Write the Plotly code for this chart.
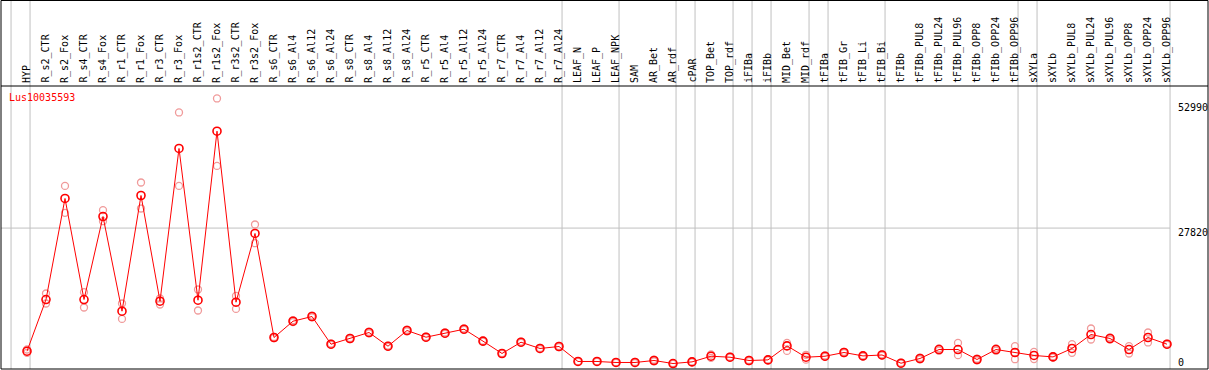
import plotly.graph_objects as go

categories = ["HYP", "R_s2_CTR", "R_s2_Fox", "R_s4_CTR", "R_s4_Fox", "R_r1_CTR", "R_r1_Fox",
              "R_r3_CTR", "R_r3_Fox", "R_r1s2_CTR", "R_r1s2_Fox", "R_r3s2_CTR", "R_r3s2_Fox",
              "R_s6_CTR", "R_s6_Al4", "R_s6_Al12", "R_s6_Al24", "R_s8_CTR", "R_s8_Al4", "R_s8_Al12",
              "R_s8_Al24", "R_r5_CTR", "R_r5_Al4", "R_r5_Al12", "R_r5_Al24", "R_r7_CTR", "R_r7_Al4",
              "R_r7_Al12", "R_r7_Al24", "LEAF_N", "LEAF_P", "LEAF_NPK", "SAM", "AR_Bet", "AR_rdf",
              "cPAR", "TOP_Bet", "TOP_rdf", "iFIBa", "iFIBb", "MID_Bet", "MID_rdf", "tFIBa",
              "tFIB_Gr", "tFIB_Li", "tFIB_Bi", "tFIBb", "tFIBb_PUL8", "tFIBb_PUL24", "tFIBb_PUL96",
              "tFIBb_OPP8", "tFIBb_OPP24", "tFIBb_OPP96", "sXYLa", "sXYLb", "sXYLb_PUL8",
              "sXYLb_PUL24", "sXYLb_PUL96", "sXYLb_OPP8", "sXYLb_OPP24", "sXYLb_OPP96"]

mean_values = [3020, 13430, 33780, 13430, 30150, 11080, 34380, 13090, 43850, 13290, 47330, 12890, 26730,
               5780, 9060, 10010, 4430, 5580, 6790, 4030, 7190, 5840, 6650, 7450, 5040, 2560, 4830, 3570, 3970,
               950, 950, 750, 750, 1150, 540, 870,
               2010, 1810, 1150, 1270, 4090, 1810, 2010, 2760, 2070, 2260, 600,
               1550, 3360, 3360, 1350, 3360, 2760, 2160, 1870, 3570, 6380, 5580, 3360, 5780, 4430]

rep1_values = [3360, 14640, 36310, 14900, 31420, 12630, 37000, 13640, 51100, 15450, 53920, 14160, 28540,
               5900, 9250, 10200, 4550, 5700, 6950, 4150, 7350, 5950, 6800, 7600, 5150, 2650, 4950, 3680, 4080,
               1020, 1010, 820, 860, 1300, 620, 960,
               2360, 1900, 1250, 1350, 4690, 2300, 2150, 2900, 2200, 2400, 700,
               1700, 3600, 4690, 1500, 3600, 4030, 2880, 2000, 4430, 7590, 5800, 4030, 6790, 4560]

rep2_values = [2700, 12630, 30880, 11820, 29200, 9530, 31760, 12430, 36310, 11220, 40340, 11540, 24770,
               5660, 8870, 9820, 4310, 5460, 6630, 3910, 7030, 5730, 6500, 7300, 4930, 2470, 4710, 3460, 3860,
               880, 890, 680, 640, 1000, 460, 780,
               1670, 1720, 1050, 1190, 3080, 1320, 1870, 2620, 1940, 2120, 500,
               1400, 3120, 2220, 1200, 3120, 1410, 1430, 1740, 2700, 5380, 5360, 2560, 4780, 4300]

# group separators: line drawn just right of these category indices
group_ends = [-1, 0, 28, 31, 34, 35, 37, 38, 39, 41, 42, 45, 52, 53, 60]
y_ticks = [0, 27820, 52990]
title_text = "Lus10035593"

W, H = 1209, 370
ML, MR, MT, MB = 1, 1, 86, 1
plot_h = H - MT - MB
top_paper = (H - MB - 0.5) / plot_h

x = list(range(len(categories)))
mono = "DejaVu Sans Mono"

fig = go.Figure()
for reps in (rep1_values, rep2_values):
    fig.add_trace(go.Scatter(x=x, y=reps, mode="markers",
                             marker=dict(symbol="circle-open", size=7, color="#f09a9a",
                                         line=dict(width=1.3, color="#f09a9a")),
                             hoverinfo="skip", showlegend=False))
fig.add_trace(go.Scatter(x=x, y=mean_values, mode="lines+markers",
                         line=dict(color="#ff0000", width=1),
                         marker=dict(symbol="circle-open", size=8, color="#ff0000",
                                     line=dict(width=1.6, color="#ff0000")),
                         showlegend=False))

shapes = []
for g in group_ends:
    shapes.append(dict(type="line", xref="x", yref="paper", x0=g + 0.16, x1=g + 0.16,
                       y0=0, y1=top_paper, line=dict(color="#c0c0c0", width=1), layer="below"))
shapes.append(dict(type="line", xref="paper", yref="y", x0=0, x1=(1170 - ML) / (W - ML - MR),
                   y0=y_ticks[1], y1=y_ticks[1], line=dict(color="#c0c0c0", width=1), layer="below"))
# frame
shapes.append(dict(type="rect", xref="paper", yref="paper", x0=0, x1=1, y0=0, y1=top_paper,
                   line=dict(color="black", width=1)))
shapes.append(dict(type="line", xref="paper", yref="paper", x0=0, x1=1, y0=1, y1=1,
                   line=dict(color="black", width=1)))

annotations = []
label_y = (H - MB - 84) / plot_h
for i, c in enumerate(categories):
    annotations.append(dict(x=i, y=label_y, xref="x", yref="paper", text=c, showarrow=False,
                            textangle=-90, xanchor="center", yanchor="bottom",
                            font=dict(family=mono, size=10, color="black"), borderpad=0))
annotations.append(dict(x=(8 - ML) / (W - ML - MR), y=(H - MB - 97) / plot_h, xref="paper", yref="paper",
                        text=title_text, showarrow=False, xanchor="left", yanchor="middle",
                        font=dict(family=mono, size=10, color="#ff0000"), borderpad=0))
lab_x = (1177 - ML) / (W - ML - MR)
for v in y_ticks:
    shift = 4 if v == 0 else -4
    annotations.append(dict(x=lab_x, y=v, xref="paper", yref="y", text=str(v), showarrow=False,
                            xanchor="left", yanchor="middle", yshift=shift,
                            font=dict(family=mono, size=10, color="black"), borderpad=0))

x_left = (ML - 27) / 19
x_right = (W - MR - 27) / 19
fig.update_layout(
    width=W, height=H,
    margin=dict(l=ML, r=MR, t=MT, b=MB, pad=0),
    paper_bgcolor="white", plot_bgcolor="white",
    xaxis=dict(range=[x_left, x_right], visible=False, fixedrange=True),
    yaxis=dict(range=[-564, 56432], visible=False, fixedrange=True),
    shapes=shapes, annotations=annotations,
)

fig.write_html("out.html", config={"displayModeBar": False},
               post_script="document.body.style.margin='0';document.body.style.overflow='hidden';")
